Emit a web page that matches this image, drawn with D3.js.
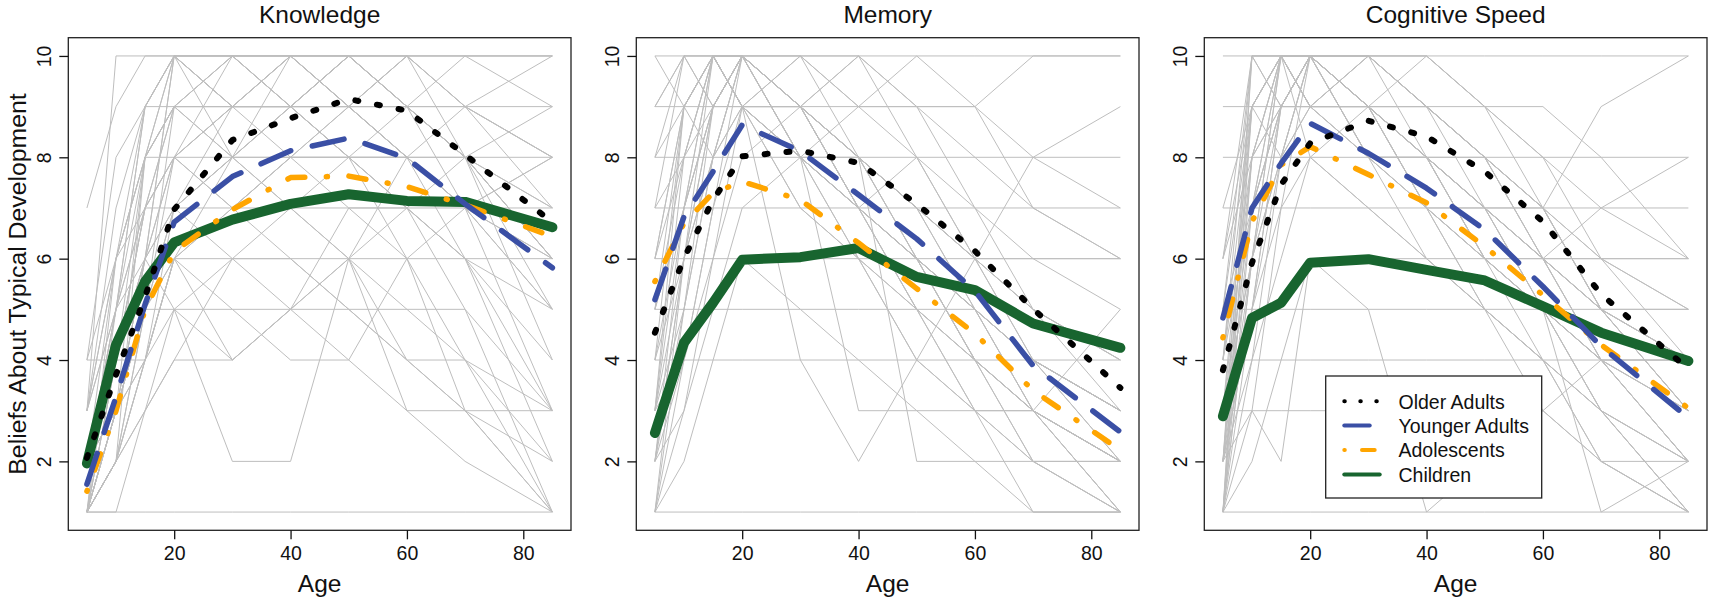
<!DOCTYPE html>
<html><head><meta charset="utf-8">
<script src="https://cdn.jsdelivr.net/npm/d3@7"></script>
<style>body{margin:0;background:#fff}svg{display:block}</style>
</head><body>
<svg id="chart" width="1713" height="604"></svg>
<script>
// ---------------- DATA ----------------
const ages = [5, 10, 15, 20, 30, 40, 50, 60, 70, 85];
const xTicks = [20, 40, 60, 80];
const yTicks = [2, 4, 6, 8, 10];
const panelTitles = ["Knowledge", "Memory", "Cognitive Speed"];
const groupNames = ["Older Adults", "Younger Adults", "Adolescents", "Children"];
const xLabel = "Age";
const yLabel = "Beliefs About Typical Development";

// group means
const knowledgeOlder       = [2.07, 3.71, 5.25, 6.97, 8.34, 8.77, 9.15, 8.92, 8.05, 6.72];
const knowledgeYounger     = [1.55, 3.27, 5.10, 6.72, 7.62, 8.13, 8.38, 7.98, 7.08, 5.82];
const knowledgeAdolescents = [1.41, 3.00, 5.00, 6.14, 6.97, 7.60, 7.63, 7.42, 7.06, 6.44];
const knowledgeChildren    = [1.96, 4.30, 5.55, 6.32, 6.77, 7.08, 7.27, 7.14, 7.12, 6.62];

const memoryOlder       = [4.54, 6.01, 7.16, 8.02, 8.13, 7.89, 7.08, 6.15, 5.01, 3.45];
const memoryYounger     = [5.19, 6.83, 7.72, 8.64, 8.12, 7.26, 6.39, 5.36, 3.89, 2.58];
const memoryAdolescents = [5.55, 6.70, 7.30, 7.52, 7.16, 6.31, 5.41, 4.52, 3.40, 2.22];
const memoryChildren    = [2.56, 4.34, 5.13, 5.98, 6.03, 6.21, 5.64, 5.38, 4.72, 4.24];

const speedOlder       = [3.80, 5.92, 7.46, 8.28, 8.72, 8.41, 7.72, 6.73, 5.30, 3.82];
const speedYounger     = [4.83, 7.00, 7.88, 8.67, 8.08, 7.39, 6.57, 5.45, 4.27, 2.86];
const speedAdolescents = [4.44, 6.73, 7.85, 8.21, 7.66, 7.10, 6.24, 5.28, 4.30, 3.05];
const speedChildren    = [2.89, 4.83, 5.13, 5.92, 5.99, 5.78, 5.57, 5.06, 4.54, 3.98];

// individual participant ratings (grey lines)
const knowledgeIndividuals = [
  [3,10,10,10,10,10,10,10,10,10],[7,9,10,10,9,10,9,10,9,8],[1,3,5,9,9,9,9,9,9,9],
  [1,2,8,8,8,8,8,8,8,8],[2,4,7,7,7,7,7,7,7,7],[1,3,5,6,6,6,6,6,6,6],
  [1,2,3,5,5,5,5,5,5,1],[4,4,4,6,7,8,9,8,7,5],[1,1,1,1,1,1,1,1,1,1],
  [2,3,6,5,2,2,6,7,8,9],[1,4,6,10,8,9,10,9,7,3],[3,5,8,9,10,9,8,7,6,4],
  [1,3,6,8,9,10,10,9,8,6],[2,5,7,9,10,10,9,8,6,2],[1,2,4,6,8,9,10,10,9,7],
  [3,6,8,10,9,8,9,10,10,10],[2,4,6,8,10,9,8,6,4,1],[1,3,5,7,8,9,9,10,10,9],
  [4,6,7,8,7,6,5,4,3,1],[1,2,5,6,4,5,6,8,9,10],[2,3,4,6,7,8,8,7,5,3],
  [1,4,7,9,8,7,6,5,4,2],[3,5,6,7,8,10,9,8,7,6],[2,4,8,10,9,10,10,9,8,5],
  [1,2,3,4,6,7,8,9,10,10],[1,3,5,5,4,5,7,6,3,1],[2,5,7,8,9,9,10,10,8,4],
  [1,2,4,5,6,6,5,4,3,2],[3,6,9,9,8,8,7,7,6,5],[2,4,6,7,9,9,9,8,7,8],
  [1,3,6,10,10,9,9,9,8,6],[2,3,5,8,7,8,8,7,6,3],[1,1,3,4,4,5,4,3,2,1],
  [2,3,4,6,5,4,4,6,7,8],[1,2,5,7,6,5,6,4,4,3],[1,2,4,7,8,7,6,3,3,3],
  [1,5,9,10,9,9,8,8,7,5],[2,6,8,9,10,10,10,9,9,8],[1,4,7,8,9,9,8,8,7,6],
  [3,7,9,10,10,10,9,9,8,7],[1,6,8,9,9,10,9,8,8,6],[2,5,9,10,10,9,10,9,8,7],
  [1,3,8,9,9,9,10,10,9,8],[4,8,9,10,10,10,10,9,8,6]
];
const memoryIndividuals = [
  [10,10,10,10,10,10,10,10,10,10],[9,9,9,9,9,9,9,9,7,6],[8,8,8,8,8,8,8,8,8,8],
  [7,7,7,7,7,7,7,7,7,7],[6,6,6,6,6,6,6,6,6,6],[5,5,5,5,5,5,5,5,4,3],
  [4,4,4,4,4,4,4,4,4,4],[1,1,1,1,1,1,1,1,1,1],[2,6,9,10,9,8,6,4,3,2],
  [3,7,10,10,8,6,5,3,2,1],[5,8,10,9,8,7,6,5,4,2],[1,4,7,10,10,9,8,6,4,3],
  [2,5,8,9,10,8,7,5,3,1],[4,7,9,10,9,10,8,7,5,4],[6,8,10,10,9,8,7,6,5,3],
  [3,6,9,9,8,7,5,4,2,1],[1,3,6,8,9,10,9,7,6,5],[2,4,7,9,7,6,4,3,3,2],
  [5,7,9,10,10,9,9,8,7,6],[3,5,8,10,9,7,6,4,2,2],[8,9,10,9,8,6,5,3,2,1],
  [2,3,5,7,8,9,10,9,8,7],[4,6,8,9,10,10,9,9,10,10],[1,2,4,6,5,4,3,2,1,1],
  [3,4,6,9,8,3,3,3,3,5],[6,9,10,10,9,8,2,2,2,2],[2,6,10,9,9,7,6,5,3,1],
  [7,8,9,10,8,7,5,4,3,2],[5,7,10,9,4,2,4,6,8,9],[1,5,9,10,9,8,7,6,6,6],
  [9,10,10,9,7,6,4,3,1,1],[10,9,8,10,9,7,8,6,5,4],
  [3,8,10,10,9,8,7,5,4,2],[6,9,10,9,9,8,6,5,4,3],[2,7,9,10,8,7,6,4,3,2],
  [8,10,10,10,9,8,7,6,4,3],[4,9,10,9,8,7,6,5,3,2],[1,6,8,10,9,8,6,5,4,3],
  [7,10,9,10,9,7,6,4,3,2],[5,9,10,10,8,8,7,6,5,4],[3,9,10,9,9,7,5,4,3,1],
  [9,10,9,10,8,7,6,5,4,3]
];
const speedIndividuals = [
  [10,10,10,10,10,10,10,10,10,10],[9,9,9,9,9,9,9,9,8,6],[8,8,8,8,8,8,8,8,8,8],
  [7,7,7,7,7,7,7,7,7,7],[5,5,5,5,5,5,5,5,5,5],[4,4,4,4,4,4,4,4,4,4],
  [3,3,3,3,3,3,3,3,2,2],[1,1,1,1,1,1,1,1,1,1],[2,6,10,10,9,8,7,6,4,2],
  [3,8,10,9,8,7,5,4,3,1],[1,5,9,10,10,9,8,6,5,3],[4,7,9,10,9,8,6,5,3,2],
  [2,4,8,9,10,10,9,7,5,4],[5,9,10,10,8,6,5,4,2,1],[1,3,7,10,9,8,7,6,5,5],
  [6,8,9,10,9,9,8,7,6,4],[2,5,8,9,8,7,7,6,4,3],[3,6,9,9,10,8,7,5,4,2],
  [1,4,6,8,7,6,5,4,3,1],[4,8,10,9,9,8,6,4,2,1],[2,7,9,10,8,7,6,6,6,6],
  [3,5,7,8,9,10,9,8,6,5],[1,6,8,10,10,9,8,7,9,10],[2,3,2,6,6,6,6,6,6,6],
  [7,9,10,8,7,6,5,4,3,2],[1,2,4,6,5,1,2,3,4,4],[5,7,9,9,9,7,6,5,4,2],
  [3,6,8,10,9,7,5,3,2,1],[2,5,9,10,10,10,9,8,7,6],[1,7,10,10,9,8,8,7,5,3],
  [6,10,9,10,8,8,7,5,1,2],[4,9,10,9,10,9,8,6,7,8],
  [1,9,10,10,9,8,7,6,5,4],[2,10,9,10,10,9,8,7,6,5],[3,9,10,10,9,9,7,6,4,3],
  [1,8,9,10,8,8,6,5,4,2],[4,10,10,9,9,8,7,6,5,3],[2,9,8,10,9,7,6,5,4,4],
  [1,6,10,9,8,8,7,5,3,2],[5,10,10,10,9,8,6,5,4,3],[2,8,10,10,10,9,8,6,5,4],
  [3,7,10,9,9,8,7,7,5,3],[1,10,10,10,9,7,6,5,3,1],[6,9,10,10,10,9,8,7,5,4]
];

// ---------------- STYLE ----------------
const FONT = "'Liberation Sans', Arial, Helvetica, sans-serif";
const groupStyles = [
  {color: "#000000", width: 6,   dash: "3 19",                 lw: 4, ldash: "0.5 15.5"},
  {color: "#3A4FA5", width: 5.5, dash: "32.5 22",              lw: 4, ldash: "25.4 30"},
  {color: "#FFA500", width: 5.5, dash: "1 21.6 17.2 21.6",     lw: 4, ldash: "0.5 17.2 12.7 17.2"},
  {color: "#18652F", width: 10,  dash: null,                   lw: 4, ldash: null}
];
const drawOrder = [3, 2, 1, 0];

const panels = [
  {title: panelTitles[0], lines: knowledgeIndividuals, means: [knowledgeOlder, knowledgeYounger, knowledgeAdolescents, knowledgeChildren]},
  {title: panelTitles[1], lines: memoryIndividuals,    means: [memoryOlder, memoryYounger, memoryAdolescents, memoryChildren]},
  {title: panelTitles[2], lines: speedIndividuals,     means: [speedOlder, speedYounger, speedAdolescents, speedChildren]}
];

// ---------------- DRAW ----------------
const svg = d3.select("#chart");
const panelStep = 568;

panels.forEach((p, i) => {
  const dx = i * panelStep;
  const x = d3.scaleLinear().domain([1.8, 88.2]).range([68.3 + dx, 571 + dx]);
  const y = d3.scaleLinear().domain([0.64, 10.36]).range([530.3, 37.7]);
  const g = svg.append("g");

  const line = d3.line().x((d, j) => x(ages[j])).y(d => y(d));

  // individual lines
  g.append("g").selectAll("path").data(p.lines).join("path")
    .attr("d", line).attr("fill", "none")
    .attr("stroke", "#BEBEBE").attr("stroke-width", 1);

  // group means
  drawOrder.forEach(k => {
    const st = groupStyles[k];
    const path = g.append("path").attr("d", line(p.means[k]))
      .attr("fill", "none").attr("stroke", st.color)
      .attr("stroke-width", st.width)
      .attr("stroke-linecap", "round").attr("stroke-linejoin", "round");
    if (st.dash) path.attr("stroke-dasharray", st.dash);
  });

  // box
  g.append("rect").attr("x", x.range()[0]).attr("y", y.range()[1])
    .attr("width", x.range()[1] - x.range()[0]).attr("height", y.range()[0] - y.range()[1])
    .attr("fill", "none").attr("stroke", "#222").attr("stroke-width", 1.3);

  // x axis
  const gx = g.append("g").attr("transform", `translate(0,${y.range()[0]})`)
    .call(d3.axisBottom(x).tickValues(xTicks).tickSize(9).tickSizeOuter(0).tickFormat(d3.format("d")));
  gx.select(".domain").remove();
  gx.attr("font-family", FONT).attr("font-size", 19.5).attr("color", "#111");
  gx.selectAll(".tick line").attr("stroke-width", 1.3);
  gx.selectAll(".tick text").attr("y", 29.7).attr("dy", 0);

  // y axis
  const gy = g.append("g").attr("transform", `translate(${x.range()[0]},0)`)
    .call(d3.axisLeft(y).tickValues(yTicks).tickSize(9).tickSizeOuter(0).tickFormat(d3.format("d")));
  gy.select(".domain").remove();
  gy.attr("font-family", FONT).attr("font-size", 19.5).attr("color", "#111");
  gy.selectAll(".tick line").attr("stroke-width", 1.3);
  gy.selectAll(".tick text").attr("transform", "rotate(-90)")
    .attr("x", 0).attr("y", -17.7).attr("dy", 0).attr("text-anchor", "middle");

  const cx = (x.range()[0] + x.range()[1]) / 2;
  // title
  g.append("text").attr("x", cx).attr("y", 23).attr("text-anchor", "middle")
    .attr("font-family", FONT).attr("font-size", 24.5).attr("fill", "#111").text(p.title);
  // x label
  g.append("text").attr("x", cx).attr("y", 592).attr("text-anchor", "middle")
    .attr("font-family", FONT).attr("font-size", 24.5).attr("fill", "#111").text(xLabel);

  if (i === 0) {
    const cy = (y.range()[0] + y.range()[1]) / 2;
    g.append("text").attr("transform", `translate(25.7,${cy}) rotate(-90)`)
      .attr("text-anchor", "middle").attr("font-family", FONT).attr("font-size", 24.8)
      .attr("fill", "#111").text(yLabel);
  }

  if (i === 2) {
    const lg = g.append("g");
    lg.append("rect").attr("x", 1325.7).attr("y", 376).attr("width", 216).attr("height", 122)
      .attr("fill", "#fff").attr("stroke", "#222").attr("stroke-width", 1.3);
    groupNames.forEach((name, k) => {
      const st = groupStyles[k];
      const ly = 401.2 + k * 24.4;
      const l = lg.append("line").attr("x1", 1344.3).attr("x2", 1379.7)
        .attr("y1", ly).attr("y2", ly).attr("stroke", st.color)
        .attr("stroke-width", st.lw).attr("stroke-linecap", "round");
      if (st.ldash) l.attr("stroke-dasharray", st.ldash);
      lg.append("text").attr("x", 1398.5).attr("y", ly + 7.3)
        .attr("font-family", FONT).attr("font-size", 19.5).attr("fill", "#111").text(name);
    });
  }
});
</script>
</body></html>
